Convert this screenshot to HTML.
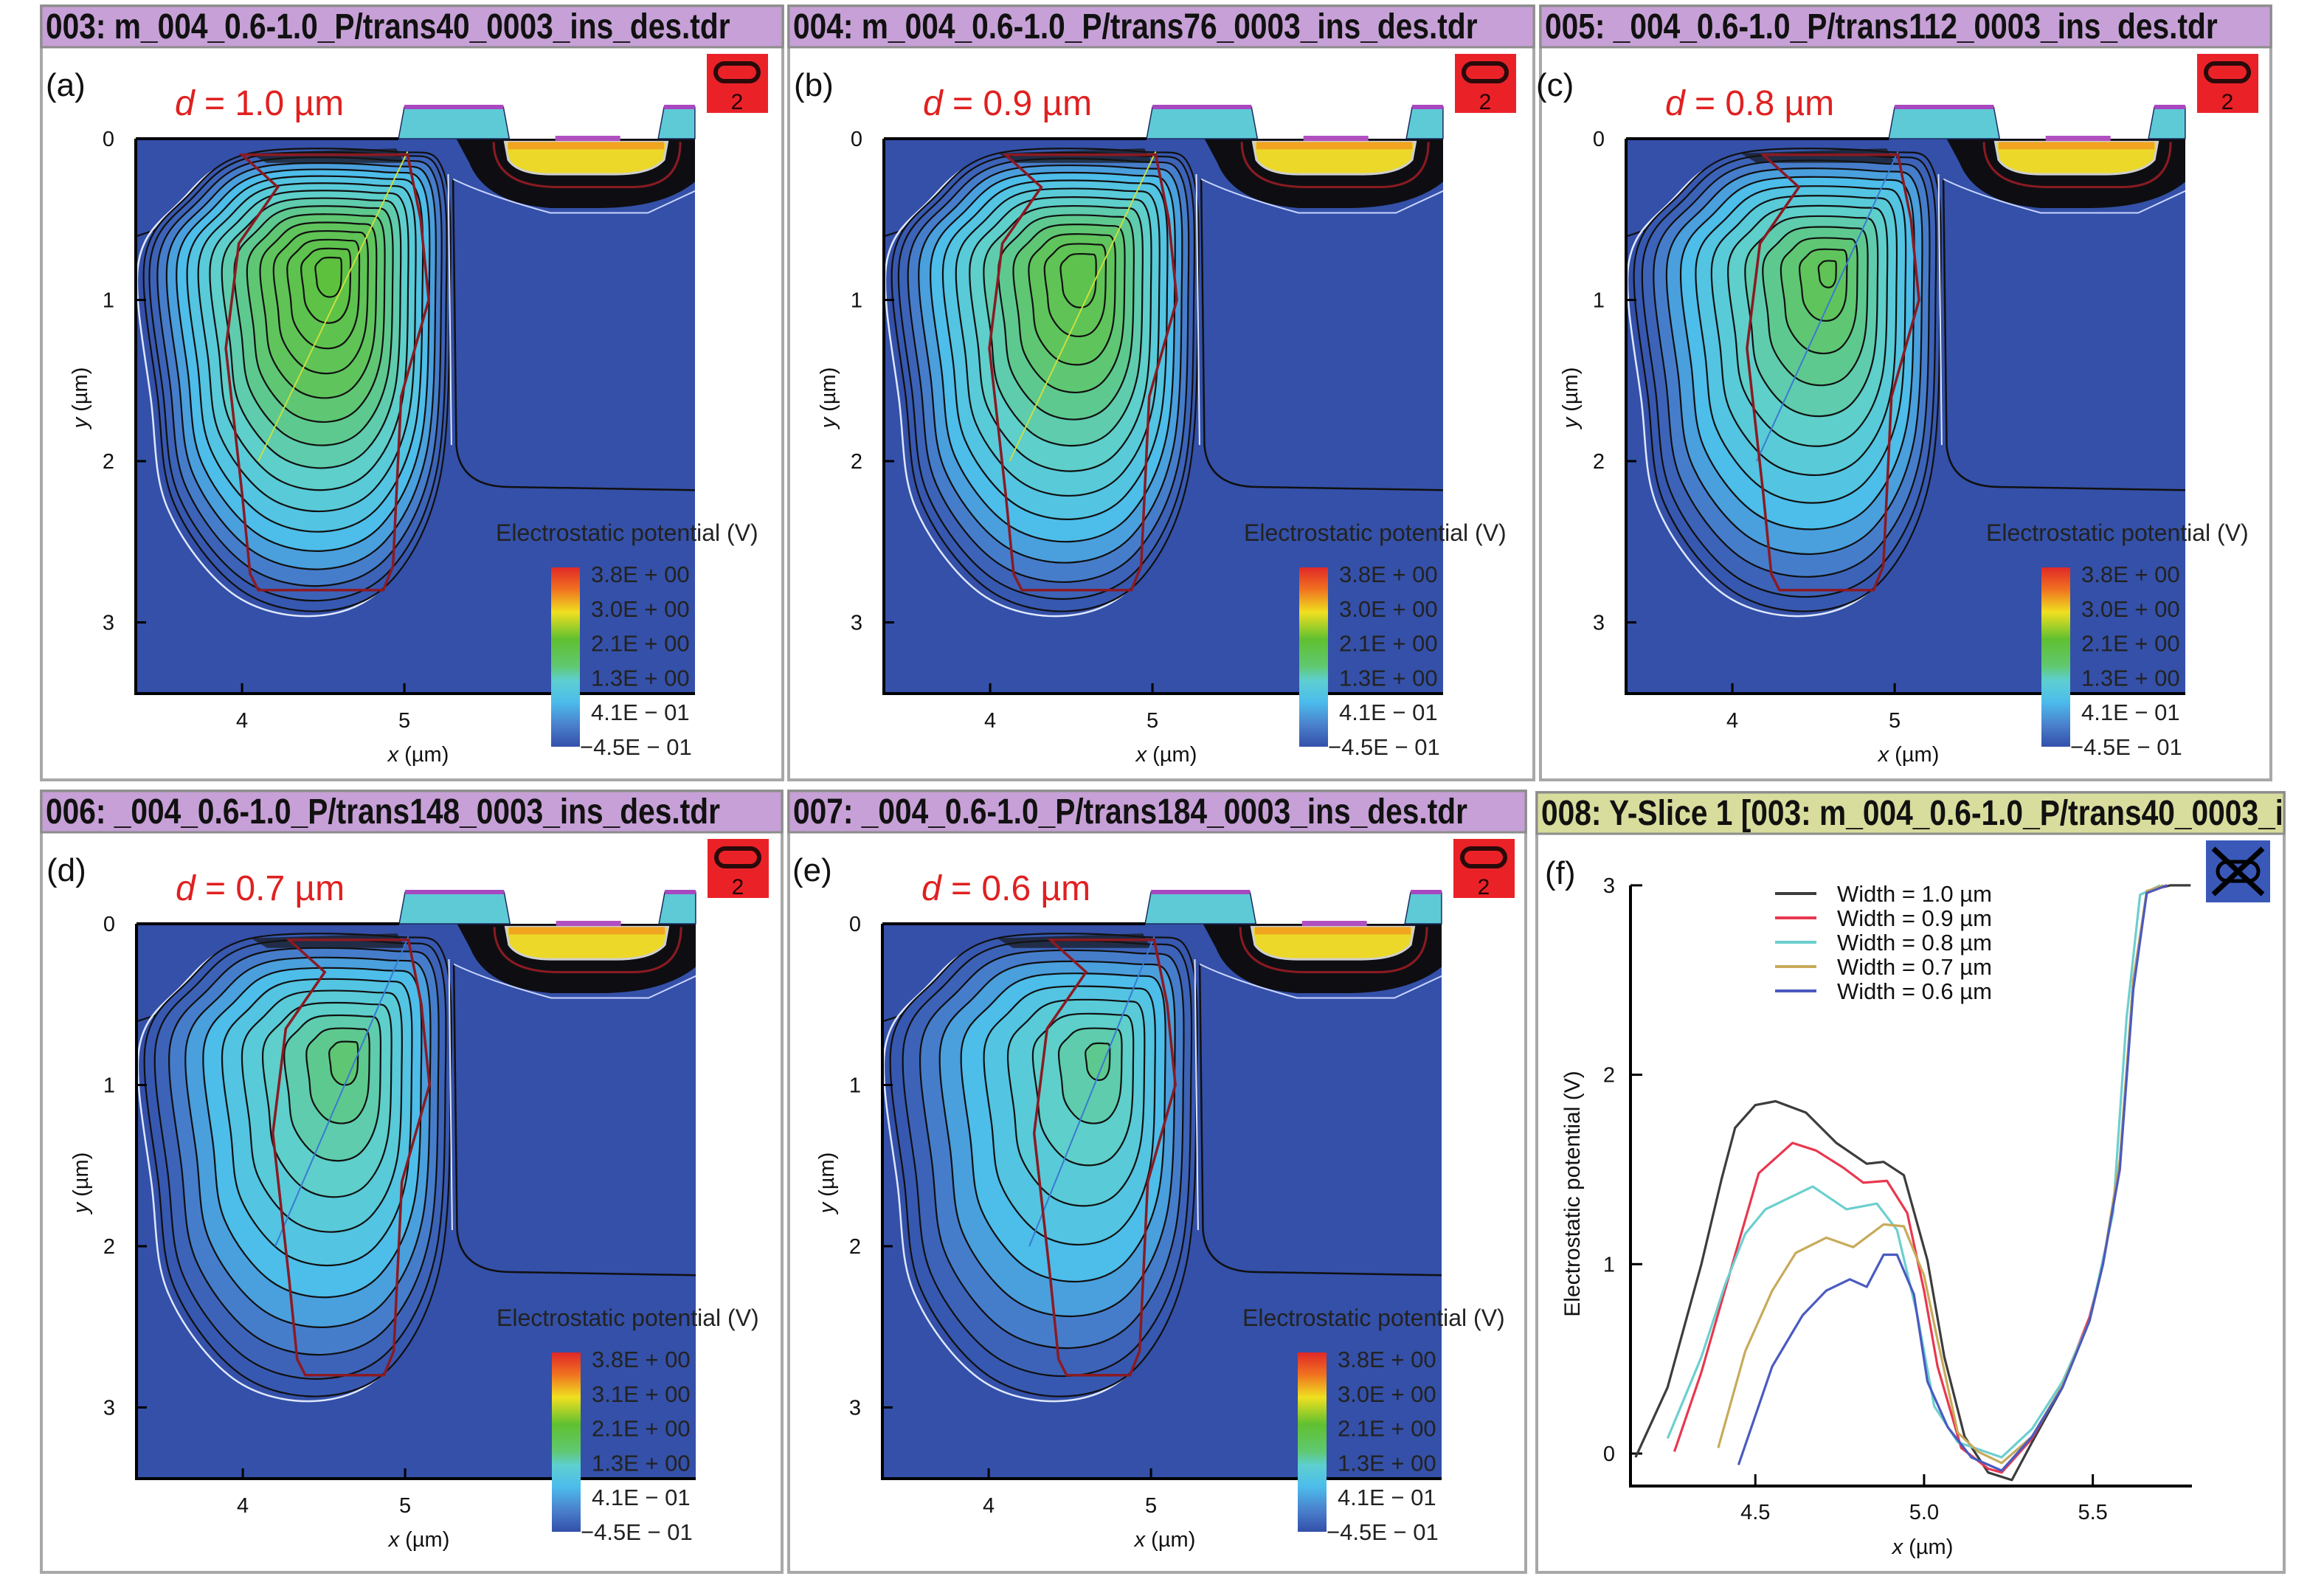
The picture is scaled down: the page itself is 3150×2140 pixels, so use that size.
<!DOCTYPE html>
<html><head><meta charset="utf-8">
<style>
html,body{margin:0;padding:0;background:#fff;}
svg{display:block;}
text{font-family:"Liberation Sans",sans-serif;}
</style></head>
<body>
<svg id="fig" width="3150" height="2140" viewBox="0 0 3150 2140" xmlns="http://www.w3.org/2000/svg">
<defs>
<linearGradient id="cbar" x1="0" y1="0" x2="0" y2="1">
<stop offset="0" stop-color="#e02828"/><stop offset="0.12" stop-color="#f07020"/>
<stop offset="0.25" stop-color="#f0e020"/><stop offset="0.40" stop-color="#60c030"/>
<stop offset="0.55" stop-color="#60c870"/><stop offset="0.63" stop-color="#5ecfd0"/>
<stop offset="0.75" stop-color="#4cbcec"/><stop offset="0.88" stop-color="#4a80cc"/>
<stop offset="1" stop-color="#3350aa"/>
</linearGradient>
</defs>
<g id="root"></g>
</svg>
<script>
// ---- data ----
const panelIds = ['a','b','c','d','e'];
const trenchWidths = [1.0, 0.9, 0.8, 0.7, 0.6];
const peakPotential = [1.86, 1.64, 1.42, 1.2, 1.05];
const wellCenterX = [4.55, 4.57, 4.6, 4.65, 4.7];
const headerTexts = [
 "003: m_004_0.6-1.0_P/trans40_0003_ins_des.tdr",
 "004: m_004_0.6-1.0_P/trans76_0003_ins_des.tdr",
 "005: _004_0.6-1.0_P/trans112_0003_ins_des.tdr",
 "006: _004_0.6-1.0_P/trans148_0003_ins_des.tdr",
 "007: _004_0.6-1.0_P/trans184_0003_ins_des.tdr",
 "008: Y-Slice 1 [003: m_004_0.6-1.0_P/trans40_0003_ins_des.tdr]"];
const cbarLabelsA = ["3.8E + 00","3.0E + 00","2.1E + 00","1.3E + 00","4.1E \u2212 01","\u22124.5E \u2212 01"];
const cbarLabelsD = ["3.8E + 00","3.1E + 00","2.1E + 00","1.3E + 00","4.1E \u2212 01","\u22124.5E \u2212 01"];
const xTicksMap = [4, 5];
const yTicksMap = [0, 1, 2, 3];
// slice plot (f)
const sliceLabels = ["Width = 1.0 \u00b5m","Width = 0.9 \u00b5m","Width = 0.8 \u00b5m","Width = 0.7 \u00b5m","Width = 0.6 \u00b5m"];
const s10x = [4.145,4.24,4.34,4.40,4.44,4.5,4.56,4.65,4.74,4.83,4.88,4.94,5.01,5.06,5.12,5.19,5.26,5.32,5.41,5.49,5.53,5.58,5.62,5.66,5.73,5.79];
const s10v = [-0.02,0.35,1.0,1.45,1.72,1.84,1.86,1.80,1.64,1.53,1.54,1.47,1.02,0.51,0.09,-0.10,-0.14,0.06,0.35,0.70,1.0,1.53,2.47,2.97,3.0,3.0];
const s09x = [4.26,4.34,4.44,4.51,4.61,4.68,4.76,4.82,4.89,4.95,5.0,5.04,5.11,5.19,5.23,5.32,5.41,5.49,5.53,5.58,5.62,5.66,5.72];
const s09v = [0.01,0.43,1.05,1.48,1.64,1.60,1.51,1.43,1.44,1.27,0.86,0.46,0.03,-0.08,-0.10,0.08,0.36,0.72,1.0,1.5,2.5,2.96,3.0];
const s08x = [4.24,4.34,4.41,4.47,4.53,4.67,4.77,4.86,4.92,4.98,5.03,5.10,5.23,5.32,5.41,5.49,5.56,5.60,5.64,5.70];
const s08v = [0.08,0.51,0.89,1.16,1.29,1.41,1.29,1.32,1.18,0.73,0.25,0.06,-0.02,0.13,0.38,0.70,1.27,2.3,2.95,3.0];
const s07x = [4.39,4.47,4.55,4.62,4.71,4.79,4.88,4.94,5.0,5.04,5.10,5.16,5.23,5.32,5.41,5.49,5.53,5.58,5.62,5.66,5.71];
const s07v = [0.03,0.54,0.86,1.06,1.14,1.09,1.21,1.2,0.94,0.6,0.11,0.01,-0.05,0.09,0.36,0.70,1.0,1.55,2.5,2.97,3.0];
const s06x = [4.45,4.55,4.64,4.71,4.78,4.83,4.88,4.92,4.97,5.01,5.07,5.14,5.23,5.32,5.41,5.49,5.53,5.58,5.62,5.66,5.72];
const s06v = [-0.06,0.46,0.73,0.86,0.92,0.88,1.05,1.05,0.84,0.38,0.14,-0.02,-0.09,0.09,0.35,0.70,1.0,1.5,2.45,2.96,3.0];
const sliceXTicks = [4.5, 5.0, 5.5];
const sliceYTicks = [0, 1, 2, 3];

// ---- layout ----
const NS = "http://www.w3.org/2000/svg";
const root = document.getElementById('root');
function mk(tag, attrs, parent){
  const e = document.createElementNS(NS, tag);
  for (const k in attrs) e.setAttribute(k, attrs[k]);
  (parent||root).appendChild(e);
  return e;
}
const frames = [[56,8,1005,1057],[1069,8,1010,1057],[2088,8,990,1057],[56,1072,1004,2131],[1069,1072,999,2131],[2083,1074,1013,2131]];
const plotL = [184,1198,2204,185,1196];
const plotT = [188,188,188,1252,1252];
const X0 = 3.345, SX = 220, SY = 218.5, PW = 758, PH = 752;

function cmap(v){
  const st=[[-0.45,[51,80,170]],[0,[56,90,178]],[0.2,[72,130,206]],[0.41,[76,188,236]],[0.8,[94,207,208]],[1.1,[94,201,140]],[1.3,[96,196,96]],[2.1,[92,192,48]],[2.6,[168,216,32]],[3.0,[240,224,32]],[3.4,[240,144,32]],[3.8,[232,40,40]]];
  if(v<=st[0][0]) return 'rgb('+st[0][1]+')';
  for(let i=1;i<st.length;i++){ if(v<=st[i][0]){const t=(v-st[i-1][0])/(st[i][0]-st[i-1][0]);const a=st[i-1][1],b=st[i][1];return 'rgb('+a.map((c,j)=>Math.round(c+(b[j]-c)*t)).join(',')+')';}}
  return 'rgb(232,40,40)';
}
function smooth(pts){
  const n=pts.length; let d='M'+pts[0][0].toFixed(1)+' '+pts[0][1].toFixed(1);
  for(let i=0;i<n;i++){
    const p0=pts[(i-1+n)%n],p1=pts[i],p2=pts[(i+1)%n],p3=pts[(i+2)%n];
    const c1=[p1[0]+(p2[0]-p0[0])/6,p1[1]+(p2[1]-p0[1])/6], c2=[p2[0]-(p3[0]-p1[0])/6,p2[1]-(p3[1]-p1[1])/6];
    d+='C'+c1[0].toFixed(1)+' '+c1[1].toFixed(1)+' '+c2[0].toFixed(1)+' '+c2[1].toFixed(1)+' '+p2[0].toFixed(1)+' '+p2[1].toFixed(1);
  }
  return d+'Z';
}

// frames
frames.forEach((f,i)=>{
  const [x,y,w,b]=f;
  const g = mk('g',{});
  
  
  const body = mk('rect',{x:x,y:y,width:w,height:b-y,fill:'#fff',stroke:'#a8a8a8','stroke-width':4},g);
  
  
  const hd = mk('rect',{x:x,y:y,width:w,height:56,fill:i==5?'#d8dc9c':'#c6a0d6',stroke:'#8c8c8c','stroke-width':3},g);
  
  
  const cp = mk('clipPath',{id:'hc'+i},g);
  mk('rect',{x:x,y:y,width:w-4,height:56},cp);
  const tg = mk('g',{'clip-path':'url(#hc'+i+')'},g);
  const t = mk('text',{x:0,y:0,'font-family':'"Liberation Mono",monospace','font-weight':'bold','font-size':37,fill:'#111',transform:'translate('+(x+6)+','+(y+44)+') scale(1.1,1.3)'},tg);
  t.textContent = headerTexts[i];
  
  
});

// map panels
panelIds.forEach((pid,i)=>{
  const L=plotL[i], T=plotT[i];
  const X=x=>L+(x-X0)*SX, Y=y=>T+y*SY;
  const g = mk('g',{});
  
  
  const cid='pc'+i;
  const cp = mk('clipPath',{id:cid},g);
  mk('rect',{x:L,y:T,width:PW,height:PH},cp);
  const bg = mk('rect',{x:L,y:T,width:PW,height:PH,fill:'#3450a8'},g);
  
  
  const pg = mk('g',{'clip-path':'url(#'+cid+')'},g);
  const lc = mk('path',{d:'M'+X(3.3)+' '+Y(0.62)+' Q'+X(3.7)+' '+Y(0.5)+' '+X(4.0)+' '+Y(0.3),fill:'none',stroke:'#101010','stroke-width':2.2},pg);
  
  
  // well contours
  const d = trenchWidths[i], peak = peakPotential[i], cx = wellCenterX[i], cy = 0.8;
  const outer = [[3.40,0.75],[3.48,1.6],[3.58,2.26],[3.98,2.79],[4.49,2.93],[4.93,2.73],[5.22,2.1],[5.28,1.01],[5.24,0.2],[4.93,0.08],[4.05,0.09],[3.66,0.36]];
  const wsh = mk('path',{d:smooth(outer.map(p=>[X(p[0]-0.04),Y(p[1]+0.03)])),fill:'none',stroke:'#dfe8ff','stroke-width':2.5},pg);
  
  
  const vout = -0.15, step = 0.13;
  const nLev = Math.floor((peak - vout)/step);
  for(let k=0;k<=nLev;k++){
    const v = vout + k*step;
    const fr = (v - vout)/(peak - vout);
    const t = 1 - Math.pow(fr,1.25)*0.95;
    const pts = outer.map(p=>{
      const tx = cx + (p[0]-cx)*t, ty = cy + (p[1]-cy)*t;
      return [X(tx), Y(ty)];
    });
    const c = mk('path',{d:smooth(pts),fill:cmap(v+step*0.5),stroke:'#101010','stroke-width':2.2},pg);
    
    
  }
  // dense top contours
  const topb = mk('path',{d:'M'+X(4.05)+' '+Y(0.09)+' L'+X(4.95)+' '+Y(0.06)+' L'+X(5.0)+' '+Y(0.15)+' L'+X(4.15)+' '+Y(0.15)+' Z',fill:'#161616',opacity:0.7},pg);
  
  
  // field line
  const fl = mk('line',{x1:X(5.02),y1:Y(0.08),x2:X(cx-0.45),y2:Y(2.0),stroke:i<2?'#c8e040':'#3a7ad0','stroke-width':2},pg);
  
  
  // trench outline
  const Lb = 4.9 - (0.95*d - 0.15);
  const tr = [[Lb-0.1,0.1],[Lb+0.12,0.3],[Lb-0.12,0.65],[Lb-0.2,1.3],[Lb-0.1,2.2],[Lb-0.05,2.7],[Lb,2.8],[4.87,2.8],[4.93,2.65],[4.98,1.6],[5.15,1.0],[5.1,0.5],[5.02,0.1]];
  const tp = mk('polygon',{points:tr.map(p=>X(p[0]).toFixed(1)+','+Y(p[1]).toFixed(1)).join(' '),fill:'none',stroke:'#8b1a22','stroke-width':3.5},pg);
  
  
  // right region lines
  const wl = mk('path',{d:'M'+X(5.27)+' '+Y(0.22)+' L'+X(5.29)+' '+Y(1.9),fill:'none',stroke:'#dfe8ff','stroke-width':2},pg);
  
  
  const bl = mk('path',{d:'M'+X(5.3)+' '+Y(0.25)+' L'+X(5.32)+' '+Y(1.9)+' Q'+X(5.34)+' '+Y(2.16)+' '+X(5.65)+' '+Y(2.16)+' L'+X(6.8)+' '+Y(2.18),fill:'none',stroke:'#101010','stroke-width':2.5},pg);
  
  
  const wl2 = mk('path',{d:'M'+X(5.3)+' '+Y(0.25)+' Q'+X(5.5)+' '+Y(0.35)+' '+X(5.9)+' '+Y(0.46)+' L'+X(6.5)+' '+Y(0.46)+' L'+X(6.8)+' '+Y(0.32),fill:'none',stroke:'#c8d4ff','stroke-width':2},pg);
  
  
  // black shell + yellow contact region
  const sh = mk('path',{d:'M'+X(5.32)+' '+Y(0)+' L'+X(6.8)+' '+Y(0)+' L'+X(6.8)+' '+Y(0.26)+' Q'+X(6.6)+' '+Y(0.43)+' '+X(6.2)+' '+Y(0.43)+' L'+X(5.9)+' '+Y(0.43)+' Q'+X(5.5)+' '+Y(0.4)+' '+X(5.4)+' '+Y(0.15)+' Z',fill:'#0e0e12'},pg);
  
  
  const rs = mk('path',{d:'M'+X(5.55)+' '+Y(0.02)+' Q'+X(5.55)+' '+Y(0.3)+' '+X(5.95)+' '+Y(0.3)+' L'+X(6.4)+' '+Y(0.3)+' Q'+X(6.7)+' '+Y(0.3)+' '+X(6.7)+' '+Y(0.02),fill:'none',stroke:'#8b1a22','stroke-width':3},pg);
  
  
  const ye = mk('path',{d:'M'+X(5.62)+' '+Y(0.02)+' L'+X(6.62)+' '+Y(0.02)+' L'+X(6.6)+' '+Y(0.13)+' Q'+X(6.52)+' '+Y(0.22)+' '+X(6.3)+' '+Y(0.22)+' L'+X(5.9)+' '+Y(0.22)+' Q'+X(5.7)+' '+Y(0.22)+' '+X(5.64)+' '+Y(0.13)+' Z',fill:'#ecd828',stroke:'#cfd0d0','stroke-width':3},pg);
  
  
  const or = mk('rect',{x:X(5.64),y:Y(0.02),width:X(6.6)-X(5.64),height:10,fill:'#f0a420'},pg);
  
  
  const mg = mk('rect',{x:X(5.93),y:Y(0)-4,width:X(6.33)-X(5.93),height:7,fill:'#b050c0'},g);
  
  
  // oxide blocks above
  const ox1 = mk('path',{d:'M'+(X(5.0)-8)+' '+Y(0)+' L'+X(5.0)+' '+(Y(0)-43)+' L'+X(5.61)+' '+(Y(0)-43)+' L'+(X(5.61)+8)+' '+Y(0)+' Z',fill:'#5ecad6',stroke:'#1a2a60','stroke-width':1.5},g);
  
  
  const ox2 = mk('path',{d:'M'+(X(6.6)-8)+' '+Y(0)+' L'+X(6.6)+' '+(Y(0)-43)+' L'+X(6.79)+' '+(Y(0)-43)+' L'+X(6.79)+' '+Y(0)+' Z',fill:'#5ecad6',stroke:'#1a2a60','stroke-width':1.5},g);
  
  
  const m1 = mk('rect',{x:X(5.0),y:Y(0)-46,width:X(5.61)-X(5.0),height:6,fill:'#a848c0'},g);
  
  
  const m2 = mk('rect',{x:X(6.6),y:Y(0)-46,width:X(6.79)-X(6.6),height:6,fill:'#a848c0'},g);
  
  
  // axes
  const ax = mk('path',{d:'M'+L+' '+T+' L'+L+' '+(T+PH)+' L'+(L+PW)+' '+(T+PH),fill:'none',stroke:'#000','stroke-width':4},g);
  
  
  const tl = mk('line',{x1:L,y1:T,x2:X(5.0)-8,y2:T,stroke:'#000','stroke-width':4},g);
  
  
  yTicksMap.forEach(v=>{
    const tk = mk('line',{x1:L,y1:Y(v),x2:L+14,y2:Y(v),stroke:'#000','stroke-width':3},g);
    
    
    const lb = mk('text',{x:L-37,y:Y(v)+10,'font-size':29,'text-anchor':'middle',fill:'#111'},g);
    lb.textContent = String(v);
    
    
  });
  xTicksMap.forEach(v=>{
    const tk = mk('line',{x1:X(v),y1:T+PH,x2:X(v),y2:T+PH-14,stroke:'#000','stroke-width':3},g);
    
    
    const lb = mk('text',{x:X(v),y:T+798,'font-size':29,'text-anchor':'middle',fill:'#111'},g);
    lb.textContent = String(v);
    
    
  });
  const xt = mk('text',{x:L+383,y:T+844,'font-size':29,'text-anchor':'middle',fill:'#111'},g);
  xt.innerHTML = '<tspan font-style="italic">x</tspan> (\u00b5m)';
  
  
  const yt = mk('text',{x:0,y:0,'font-size':29,'text-anchor':'middle',fill:'#111',transform:'translate('+(L-66)+','+(T+351)+') rotate(-90)'},g);
  yt.innerHTML = '<tspan font-style="italic">y</tspan> (\u00b5m)';
  
  
  // labels
  const pl = mk('text',{x:L-122,y:T-58,'font-size':44,fill:'#111'},g);
  pl.textContent = '('+pid+')';
  
  
  const dl = mk('text',{x:L+53,y:T-32,'font-size':48,fill:'#e02020'},g);
  dl.innerHTML = '<tspan font-style="italic">d</tspan> = '+d.toFixed(1)+' \u00b5m';
  
  
  // icon
  const ib = mk('rect',{x:L+774,y:T-115,width:83,height:80,fill:'#ea2228'},g);
  
  
  const ip = mk('rect',{x:L+786,y:T-102,width:58,height:24,rx:12,fill:'none',stroke:'#2a0a0a','stroke-width':6},g);
  
  
  const i2 = mk('text',{x:L+815,y:T-40,'font-size':30,'text-anchor':'middle',fill:'#200'},g);
  i2.textContent = '2';
  
  
  // colorbar
  const et = mk('text',{x:L+488,y:T+545,'font-size':32,fill:'#222'},g);
  et.textContent = 'Electrostatic potential (V)';
  
  
  const cb = mk('rect',{x:L+563,y:T+581,width:39,height:243,fill:'url(#cbar)'},g);
  
  
  const labs = pid==='d'?cbarLabelsD:cbarLabelsA;
  labs.forEach((s,k)=>{
    const lt = mk('text',{x:L+(k==5?602:617),y:T+601+k*46.8,'font-size':31,fill:'#222'},g);
    lt.textContent = s;
    
    
  });
});

// ---- panel f ----
(function(){
  const FX = x=>2210+(x-4.13)*457.4, FY = v=>1970-v*256.7;
  const g = mk('g',{});
  
  
  const ax = mk('path',{d:'M2210 1200 L2210 2014 L2971 2014',fill:'none',stroke:'#000','stroke-width':4},g);
  
  
  sliceYTicks.forEach(v=>{
    const tk = mk('line',{x1:2210,y1:FY(v),x2:2226,y2:FY(v),stroke:'#000','stroke-width':3},g);
    
    
    const lb = mk('text',{x:2181,y:FY(v)+10,'font-size':29,'text-anchor':'middle',fill:'#111'},g);
    lb.textContent = String(v);
    
    
  });
  sliceXTicks.forEach(v=>{
    const tk = mk('line',{x1:FX(v),y1:2014,x2:FX(v),y2:1998,stroke:'#000','stroke-width':3},g);
    
    
    const lb = mk('text',{x:FX(v),y:2059,'font-size':29,'text-anchor':'middle',fill:'#111'},g);
    lb.textContent = v.toFixed(1);
    
    
  });
  const xt = mk('text',{x:2606,y:2106,'font-size':29,'text-anchor':'middle',fill:'#111'},g);
  xt.innerHTML = '<tspan font-style="italic">x</tspan> (\u00b5m)';
  
  
  const yt = mk('text',{x:0,y:0,'font-size':30,'text-anchor':'middle',fill:'#111',transform:'translate(2141,1618) rotate(-90)'},g);
  yt.textContent = 'Electrostatic potential (V)';
  
  
  const pl = mk('text',{x:2094,y:1198,'font-size':44,fill:'#111'},g);
  pl.textContent = '(f)';
  
  
  const ib = mk('rect',{x:2990,y:1139,width:87,height:84,fill:'#3a58b8'},g);
  
  
  const ig = mk('path',{d:'M3000 1150 L3067 1212 M3067 1150 L3000 1212',stroke:'#000','stroke-width':7},g);
  
  
  const ig2 = mk('rect',{x:3006,y:1168,width:55,height:26,rx:13,fill:'none',stroke:'#000','stroke-width':5},g);
  
  
  const series = [[s10x,s10v,'#3c3c3c'],[s09x,s09v,'#e8384f'],[s08x,s08v,'#6ccfcf'],[s07x,s07v,'#c8aa5a'],[s06x,s06v,'#4a5ac0']];
  series.forEach((s,k)=>{
    const pts = s[0].map((x,j)=>FX(x).toFixed(1)+','+FY(s[1][j]).toFixed(1)).join(' ');
    const pl2 = mk('polyline',{points:pts,fill:'none',stroke:s[2],'stroke-width':3.2,'stroke-linejoin':'round'},g);
    
    
    const ll = mk('line',{x1:2406,y1:1211+k*33,x2:2462,y2:1211+k*33,stroke:s[2],'stroke-width':4},g);
    
    
    const lt = mk('text',{x:2490,y:1222+k*33,'font-size':31,fill:'#111'},g);
    lt.textContent = sliceLabels[k];
    
    
  });
})();
</script>
</body></html>
